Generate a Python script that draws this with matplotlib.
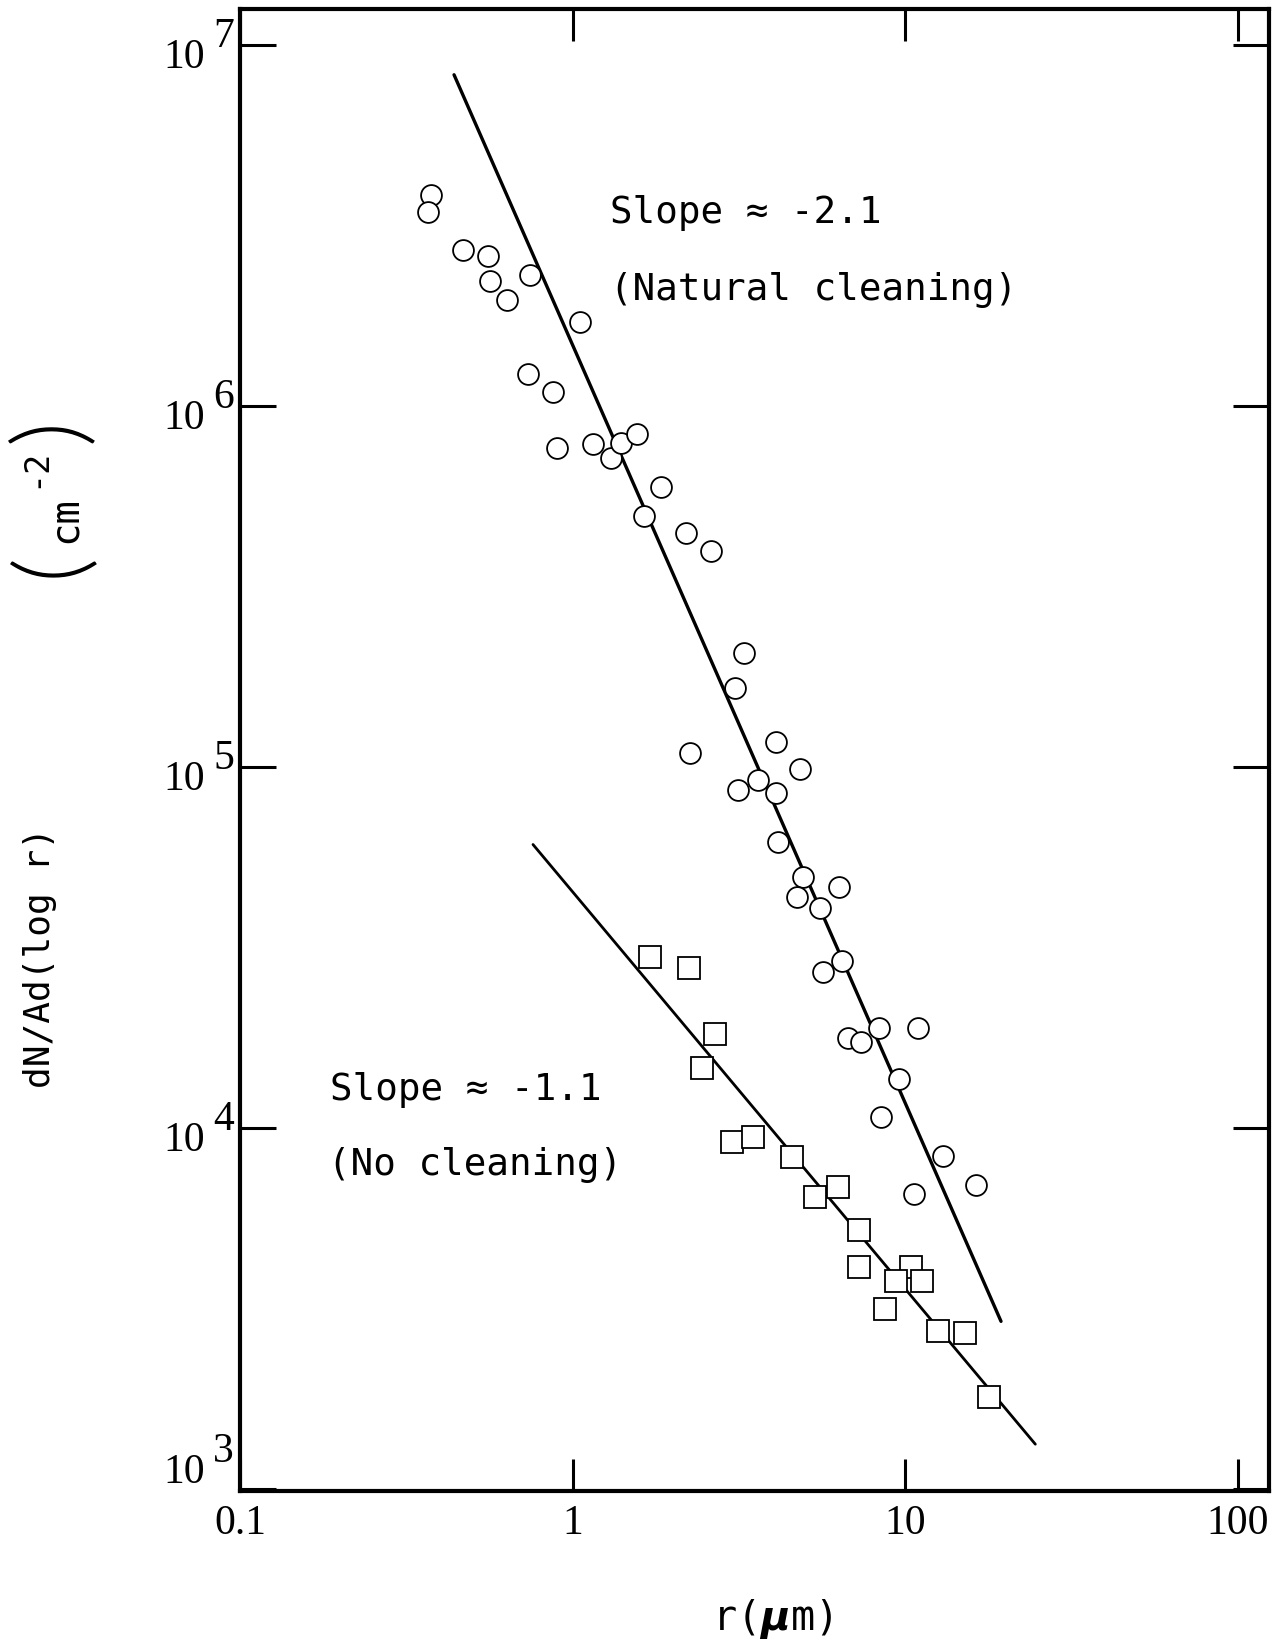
import matplotlib.pyplot as plt
from matplotlib.transforms import ScaledTranslation
from matplotlib.ticker import NullLocator
import numpy as np

# Particle size distribution on the panel surface
# naturally cleaned surface (circles)
r_nat = [0.374, 0.367, 0.469, 0.557, 0.565, 0.635, 0.744, 1.049, 0.734, 0.871,
         0.896, 1.155, 1.307, 1.400, 1.563, 1.843, 1.640, 2.19, 2.60, 3.28,
         3.07, 2.25, 4.09, 4.83, 3.61, 3.15, 4.09, 4.15, 4.93, 4.73,
         6.31, 5.54, 6.44, 5.65, 8.36, 10.9, 6.71, 7.34, 9.60, 8.48,
         12.98, 16.3, 10.6]
n_nat = [3.84e6, 3.44e6, 2.70e6, 2.61e6, 2.22e6, 1.97e6, 2.31e6, 1.71e6, 1.23e6, 1.09e6,
         7.65e5, 7.85e5, 7.18e5, 7.91e5, 8.37e5, 5.97e5, 4.96e5, 4.45e5, 3.96e5, 2.07e5,
         1.66e5, 1.09e5, 1.17e5, 9.86e4, 9.2e4, 8.64e4, 8.47e4, 6.2e4, 4.95e4, 4.36e4,
         4.65e4, 4.07e4, 2.9e4, 2.71e4, 1.89e4, 1.89e4, 1.77e4, 1.73e4, 1.37e4, 1.07e4,
         8.36e3, 6.95e3, 6.56e3]

# surface without cleaning (squares)
r_none = [1.71, 2.23, 2.67, 2.44, 3.02, 3.49, 4.57, 5.35, 6.27, 7.24,
          7.24, 10.4, 9.40, 11.2, 8.71, 12.5, 15.1, 17.9]
n_none = [2.98e4, 2.77e4, 1.82e4, 1.47e4, 9.14e3, 9.44e3, 8.31e3, 6.44e3, 6.87e3, 5.21e3,
          4.12e3, 4.12e3, 3.77e3, 3.77e3, 3.15e3, 2.74e3, 2.71e3, 1.80e3]

# power-law fits  N = A * r**slope
slope_nat, amp_nat, span_nat = -2.1, 1.475e6, (0.44, 19.4)
slope_none, amp_none, span_none = -1.1, 4.51e4, (0.76, 24.6)

x_ticks = [0.1, 1, 10, 100]
x_tick_labels = ['0.1', '1', '10', '100']
y_exps = [3, 4, 5, 6, 7]

W, H = 1279, 1647
fig = plt.figure(figsize=(W / 100, H / 100), dpi=100)
ax = fig.add_axes([240 / W, 1 - 1491 / H, (1269 - 240) / W, (1491 - 9) / H])

def fx(px):
    return px / W

def fy(py):
    return 1 - py / H

for slope, amp, span in [(slope_nat, amp_nat, span_nat), (slope_none, amp_none, span_none)]:
    rr = np.array(span)
    ax.plot(rr, amp * rr**slope, color='black', lw=2.4 if slope == slope_nat else 2.0,
            solid_capstyle='round', zorder=2)

ax.plot(r_nat, n_nat, ls='none', marker='o', ms=15, mfc='white', mec='black', mew=1.3, zorder=3)
ax.plot(r_none, n_none, ls='none', marker='s', ms=15.8, mfc='white', mec='black', mew=1.3, zorder=3)

ax.set_xscale('log')
ax.set_yscale('log')
ax.set_xlim(0.1, 124)
ax.set_ylim(10**(3 - 2 / 361), 10**(7 + 36 / 361))

for s in ax.spines.values():
    s.set_linewidth(3)

ax.set_xticks(x_ticks)
ax.set_xticklabels(x_tick_labels, fontfamily='Liberation Serif', fontsize=30)
ax.set_yticks([10.0**e for e in y_exps])
ax.xaxis.set_minor_locator(NullLocator())
ax.yaxis.set_minor_locator(NullLocator())
ax.tick_params(which='major', direction='in', width=2.2, top=True, right=True,
               labelleft=False, pad=10)
ax.tick_params(axis='x', length=23)
ax.tick_params(axis='y', length=26)

# y tick labels: "10" with a full-size exponent
ytr = ax.get_yaxis_transform()
for e in y_exps:
    lift = 29 if e == y_exps[0] else 0
    t10 = ytr + ScaledTranslation(-35 / 100, (lift - 23) / 100, fig.dpi_scale_trans)
    tex = ytr + ScaledTranslation(-27 / 100, (lift - 2) / 100, fig.dpi_scale_trans)
    ax.text(0, 10.0**e, '10', transform=t10, ha='right', va='baseline',
            fontfamily='Liberation Serif', fontsize=30)
    ax.text(0, 10.0**e, str(e), transform=tex, ha='left', va='baseline',
            fontfamily='Liberation Serif', fontsize=30)

mono = 'DejaVu Sans Mono'
fig.text(fx(610), fy(223), 'Slope \u2248 -2.1', fontfamily=mono, fontsize=27, va='baseline')
fig.text(fx(610), fy(300), '(Natural cleaning)', fontfamily=mono, fontsize=27, va='baseline')
fig.text(fx(330), fy(1100), 'Slope \u2248 -1.1', fontfamily=mono, fontsize=27, va='baseline')
fig.text(fx(328), fy(1175), '(No cleaning)', fontfamily=mono, fontsize=27, va='baseline')

fig.text(fx(772), fy(1630), r'r($\boldsymbol{\mu}$m)', fontfamily=mono, fontsize=29,
         ha='center', va='baseline')

# rotated y-axis label
fig.text(fx(40), fy(958), 'dN/Ad(log r)', fontfamily=mono, fontsize=26,
         rotation=90, ha='center', va='center')
fig.text(fx(65), fy(520), 'cm', fontfamily=mono, fontsize=28, rotation=90, ha='center', va='center')
fig.text(fx(35), fy(468), '-2', fontfamily=mono, fontsize=24, rotation=90, ha='center', va='center')
fig.text(fx(53), fy(564), '(', fontfamily='Lato', fontweight=300, fontsize=70,
         rotation=90, ha='center', va='center')
fig.text(fx(53), fy(430), ')', fontfamily='Lato', fontweight=300, fontsize=70,
         rotation=90, ha='center', va='center')

fig.savefig('out.png', dpi=100, facecolor='white')
